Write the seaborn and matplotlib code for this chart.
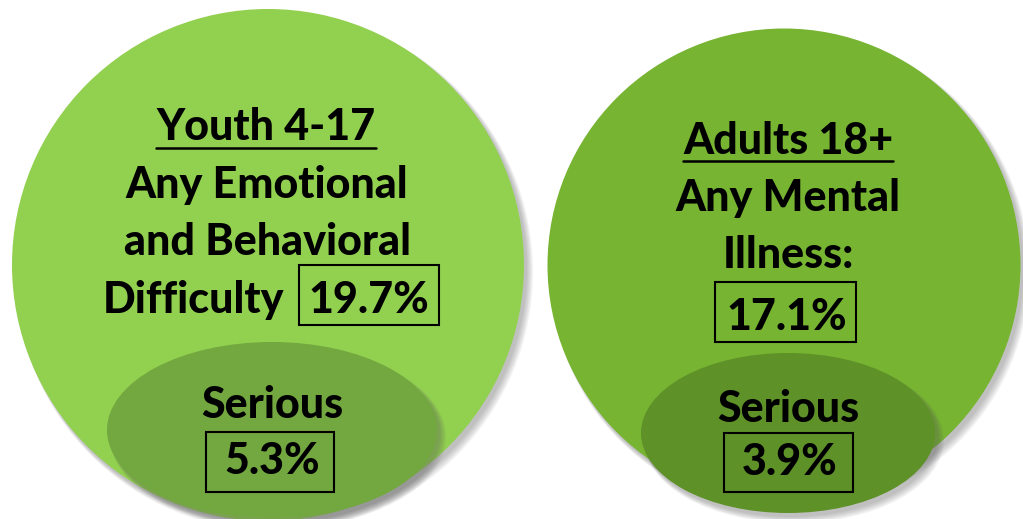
import matplotlib
matplotlib.use("Agg")
import matplotlib.pyplot as plt
from matplotlib.patches import Ellipse, Rectangle
import seaborn as sns

# groups and their values
groups = ["Youth 4-17", "Adults 18+"]
any_labels = [["Any Emotional", "and Behavioral", "Difficulty"],
              ["Any Mental", "Illness:"]]
any_pct = [19.7, 17.1]
serious_pct = [5.3, 3.9]

sns.set_theme(style="white")
plt.rcParams["font.family"] = ["Lato", "DejaVu Sans"]

fig = plt.figure(figsize=(10.23, 5.19), dpi=100)
ax = fig.add_axes([0, 0, 1, 1])
ax.set_xlim(0, 1023)
ax.set_ylim(519, 0)
ax.axis("off")

FS = 31
fkw = dict(fontsize=FS, fontweight=900, color="black")


def shadow(cx, cy, w, h, z):
    for i in range(6):
        ax.add_patch(Ellipse((cx + 3 + i * 0.6, cy + 4 + i * 0.6), w + i * 1.2, h + i * 1.2,
                             fc="#555555", ec="none", alpha=0.07, zorder=z))


# big circles (layout)
circles = [(268, 265, 512, 512, "#92D050"), (784, 265, 473, 473, "#77B432")]
ovals = [(272, 430, 330, 176, "#72A83F"), (788, 433, 294, 160, "#5E9128")]
for (cx, cy, w, h, c), (ox, oy, ow, oh, oc) in zip(circles, ovals):
    shadow(cx, cy, w, h, 1)
    ax.add_patch(Ellipse((cx, cy), w, h, fc=c, ec="none", zorder=2))
    shadow(ox, oy, ow, oh, 2.5)
    ax.add_patch(Ellipse((ox, oy), ow, oh, fc=oc, ec="none", zorder=3))


def underline(t, y):
    fig.canvas.draw()
    bb = t.get_window_extent().transformed(ax.transData.inverted())
    ax.plot([bb.x0, bb.x1], [y, y], color="black", lw=1.8, zorder=6)


def boxed(x, y, s, rect):
    ax.text(x, y, s, ha="center", va="baseline", zorder=6, **fkw)
    x0, y0, x1, y1 = rect
    ax.add_patch(Rectangle((x0, y0), x1 - x0, y1 - y0, fc="none", ec="black", lw=1.5, zorder=6))


# left: youth
t = ax.text(266, 140, groups[0], ha="center", va="baseline", zorder=6, **fkw)
underline(t, 148)
ax.text(267, 198, any_labels[0][0], ha="center", va="baseline", zorder=6, **fkw)
ax.text(267, 255, any_labels[0][1], ha="center", va="baseline", zorder=6, **fkw)
ax.text(194, 313, any_labels[0][2], ha="center", va="baseline", zorder=6, **fkw)
boxed(369, 313, f"{any_pct[0]}%", (299, 265, 439, 325))
ax.text(272, 418, "Serious", ha="center", va="baseline", zorder=6, **fkw)
boxed(272, 474, f"{serious_pct[0]}%", (206, 432, 334, 492))

# right: adults
t = ax.text(788, 154, groups[1], ha="center", va="baseline", zorder=6, **fkw)
underline(t, 161)
ax.text(788, 211, any_labels[1][0], ha="center", va="baseline", zorder=6, **fkw)
ax.text(788, 268, any_labels[1][1], ha="center", va="baseline", zorder=6, **fkw)
boxed(787, 330, f"{any_pct[1]}%", (715, 282, 856, 342))
ax.text(788, 422, "Serious", ha="center", va="baseline", zorder=6, **fkw)
boxed(790, 475, f"{serious_pct[1]}%", (724, 433, 853, 492))

fig.savefig("out.png", dpi=100)
